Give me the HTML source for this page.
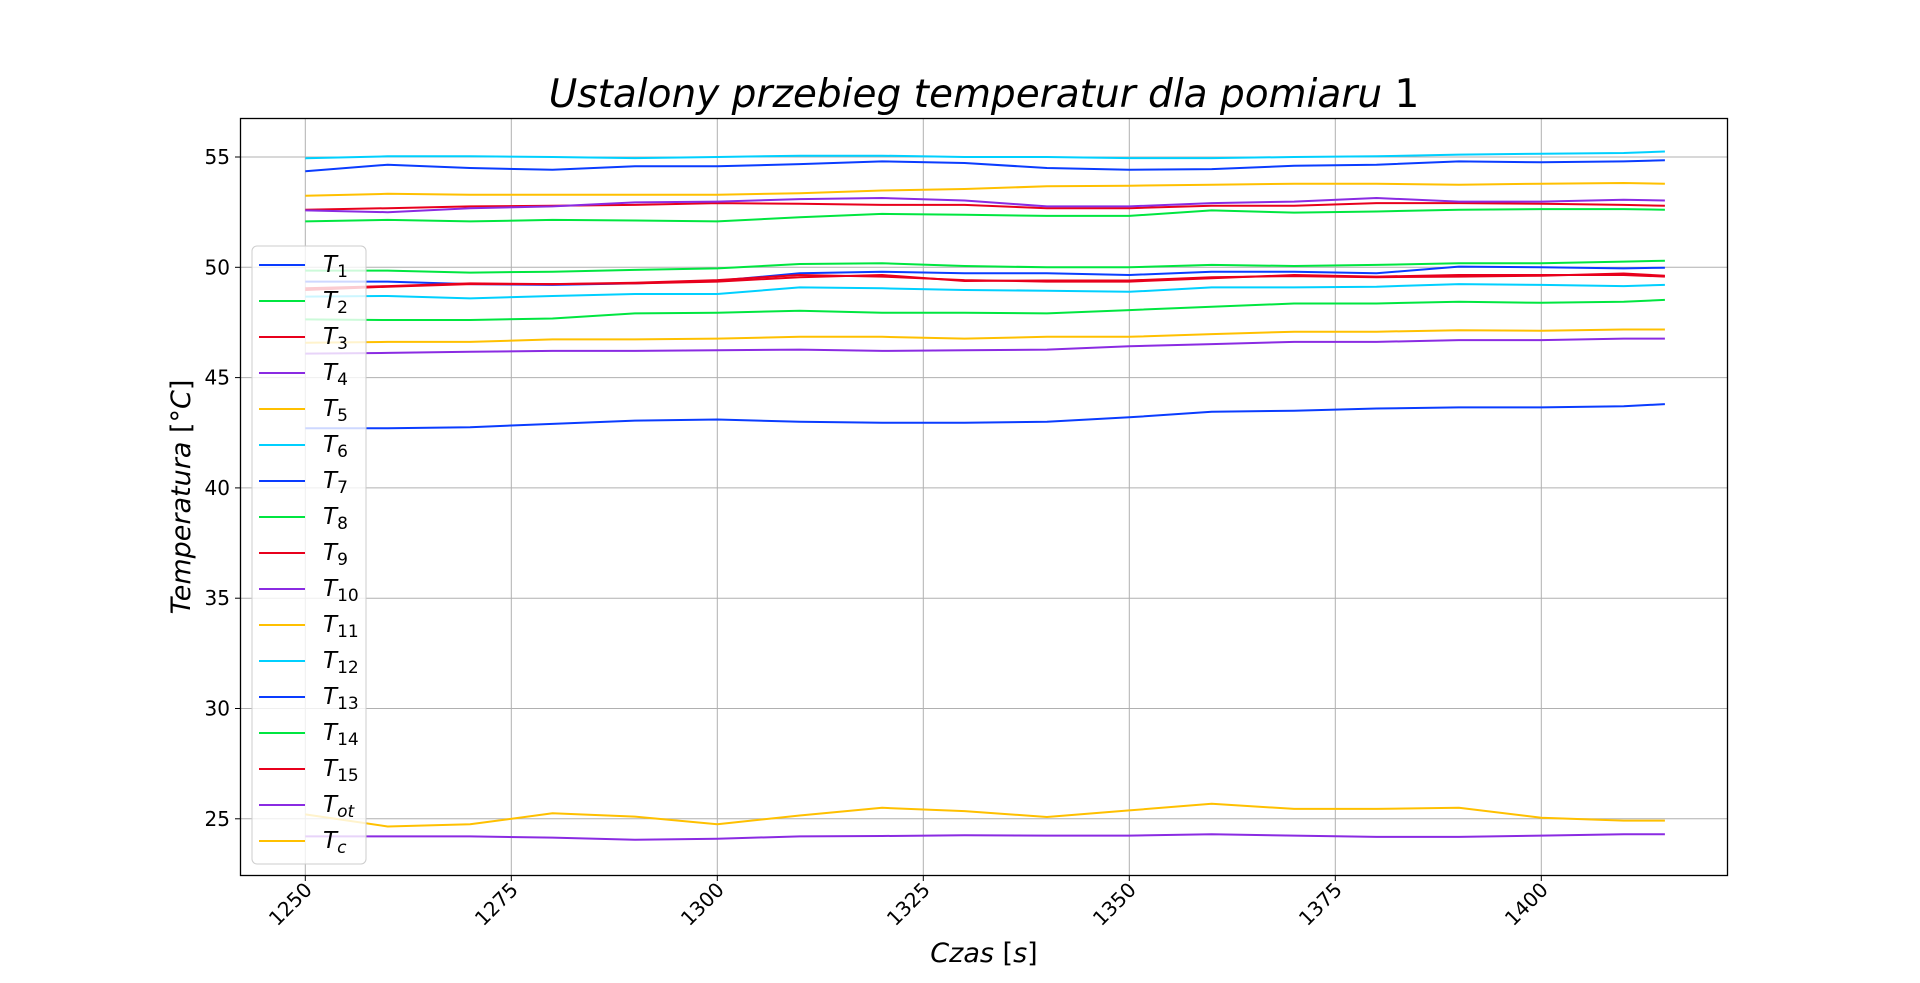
<!DOCTYPE html>
<html><head><meta charset="utf-8"><style>
html,body{margin:0;padding:0;background:#fff;}
svg{display:block;font-family:"DejaVu Sans","Liberation Sans",sans-serif;}
</style></head><body>
<svg id="chart" width="1920" height="983" viewBox="0 0 1920 983" xmlns="http://www.w3.org/2000/svg">
<rect x="0" y="0" width="1920" height="983" fill="#fff"/>
<text x="984" y="107" text-anchor="middle" font-size="39" font-style="italic" fill="#000">Ustalony przebieg temperatur dla pomiaru <tspan font-style="normal">1</tspan></text>
<g id="grid"></g>
<g id="series"></g>
<rect x="240.5" y="118.5" width="1487" height="757" fill="none" stroke="#000" stroke-width="1.3"/>
<g id="ticks"></g>
<text transform="translate(190,497) rotate(-90)" text-anchor="middle" font-size="27" fill="#000"><tspan font-style="italic">Temperatura</tspan> [°<tspan font-style="italic">C</tspan>]</text>
<text x="984" y="962" text-anchor="middle" font-size="27" fill="#000"><tspan font-style="italic">Czas</tspan> [<tspan font-style="italic">s</tspan>]</text>
<g id="legend"></g>
</svg>
<script>
const times = [1250,1260,1270,1280,1290,1300,1310,1320,1330,1340,1350,1360,1370,1380,1390,1400,1410,1415];
const seriesNames = ["1","2","3","4","5","6","7","8","9","10","11","12","13","14","15","ot","c"];
const seriesColors = ["#0a3cff","#00e640","#e8001c","#8a2be2","#ffc000","#00d0ff","#0a3cff","#00e640","#e8001c","#8a2be2","#ffc000","#00d0ff","#0a3cff","#00e640","#e8001c","#8a2be2","#ffc000"];
const T1 = [54.35,54.65,54.5,54.42,54.58,54.58,54.68,54.8,54.73,54.5,54.42,54.45,54.6,54.65,54.8,54.76,54.8,54.85];
const T2 = [52.08,52.15,52.08,52.15,52.12,52.08,52.27,52.42,52.38,52.33,52.33,52.58,52.48,52.53,52.61,52.64,52.64,52.61];
const T3 = [52.61,52.68,52.76,52.79,52.83,52.91,52.88,52.83,52.83,52.68,52.68,52.79,52.79,52.91,52.91,52.88,52.83,52.79];
const T4 = [52.58,52.5,52.68,52.76,52.94,52.98,53.09,53.14,53.03,52.76,52.76,52.91,52.98,53.14,52.98,52.98,53.06,53.03];
const T5 = [53.24,53.33,53.29,53.29,53.29,53.29,53.36,53.48,53.55,53.67,53.7,53.74,53.79,53.79,53.74,53.79,53.82,53.79];
const T6 = [54.94,55.03,55.03,55.0,54.95,55.0,55.06,55.06,55.0,55.0,54.95,54.95,55.0,55.03,55.11,55.15,55.18,55.25];
const T7 = [49.35,49.35,49.24,49.2,49.27,49.39,49.73,49.8,49.73,49.73,49.65,49.8,49.8,49.73,50.03,50.0,49.95,49.98];
const T8 = [49.85,49.85,49.76,49.8,49.88,49.95,50.15,50.18,50.06,50.0,50.0,50.11,50.06,50.11,50.18,50.18,50.26,50.3];
const T9 = [48.97,49.12,49.24,49.24,49.3,49.42,49.65,49.58,49.42,49.35,49.35,49.5,49.65,49.58,49.65,49.65,49.65,49.58];
const T10 = [46.09,46.12,46.17,46.21,46.21,46.24,46.27,46.21,46.24,46.27,46.42,46.52,46.62,46.62,46.7,46.7,46.77,46.77];
const T11 = [46.58,46.62,46.62,46.73,46.73,46.77,46.85,46.85,46.77,46.85,46.85,46.97,47.08,47.08,47.15,47.12,47.18,47.18];
const T12 = [48.67,48.7,48.59,48.7,48.79,48.79,49.09,49.05,48.97,48.94,48.89,49.09,49.09,49.12,49.24,49.2,49.15,49.2];
const T13 = [42.7,42.7,42.75,42.9,43.05,43.1,43.0,42.95,42.95,43.0,43.2,43.45,43.5,43.6,43.65,43.65,43.7,43.8];
const T14 = [47.64,47.61,47.61,47.68,47.91,47.94,48.03,47.94,47.94,47.91,48.06,48.21,48.36,48.36,48.44,48.39,48.44,48.52];
const T15 = [49.05,49.15,49.27,49.24,49.27,49.35,49.55,49.65,49.38,49.4,49.4,49.55,49.6,49.55,49.58,49.62,49.72,49.62];
const Tot = [24.2,24.2,24.2,24.15,24.05,24.1,24.2,24.22,24.25,24.24,24.24,24.3,24.24,24.18,24.18,24.24,24.3,24.3];
const Tc = [25.2,24.65,24.75,25.25,25.1,24.75,25.15,25.5,25.35,25.08,25.38,25.68,25.45,25.45,25.5,25.05,24.92,24.92];
const xTicks = [1250,1275,1300,1325,1350,1375,1400];
const yTicks = [25,30,35,40,45,50,55];

const allSeries = [T1,T2,T3,T4,T5,T6,T7,T8,T9,T10,T11,T12,T13,T14,T15,Tot,Tc];
const NS = "http://www.w3.org/2000/svg";
const X0 = 305.3, XS = 8.24, Y0 = 157, YS = 22.06;
function xScale(t){ return X0 + (t - 1250) * XS; }
function yScale(v){ return Y0 + (55 - v) * YS; }
function mk(tag, attrs, parent){ const e = document.createElementNS(NS, tag); for (const k in attrs) e.setAttribute(k, attrs[k]); parent.appendChild(e); return e; }

const grid = document.getElementById('grid');
const ticks = document.getElementById('ticks');
xTicks.forEach(t => {
  const x = xScale(t);
  const gl = mk('line', {x1:x, x2:x, y1:118.5, y2:875.5, stroke:'#b0b0b0', 'stroke-width':1}, grid);
  
  
  mk('line', {x1:x, x2:x, y1:875.5, y2:881, stroke:'#000', 'stroke-width':1}, ticks);
  const lb = mk('text', {transform:`translate(${x+8},${891}) rotate(-45)`, 'text-anchor':'end', 'font-size':20, fill:'#000'}, ticks);
  lb.textContent = t;
  
  
});
yTicks.forEach(v => {
  const y = yScale(v);
  const gl = mk('line', {x1:240.5, x2:1727.5, y1:y, y2:y, stroke:'#b0b0b0', 'stroke-width':1}, grid);
  
  
  mk('line', {x1:235, x2:240.5, y1:y, y2:y, stroke:'#000', 'stroke-width':1}, ticks);
  const lb = mk('text', {x:230, y:y+7, 'text-anchor':'end', 'font-size':20, fill:'#000'}, ticks);
  lb.textContent = v;
  
  
});

const sg = document.getElementById('series');
allSeries.forEach((vals, i) => {
  const pts = vals.map((v, j) => xScale(times[j]).toFixed(1) + ',' + yScale(v).toFixed(1)).join(' ');
  const pl = mk('polyline', {points:pts, fill:'none', stroke:seriesColors[i], 'stroke-width':2, 'stroke-linejoin':'round'}, sg);
  
  
});

const lg = document.getElementById('legend');
const box = mk('rect', {x:252, y:246, width:114, height:618, rx:5, fill:'#fff', 'fill-opacity':0.8, stroke:'#cccccc', 'stroke-width':1}, lg);


seriesNames.forEach((n, i) => {
  const y = 265 + i * 36;
  const g = mk('g', {}, lg);
  
  
  mk('line', {x1:259, x2:305, y1:y, y2:y, stroke:seriesColors[i], 'stroke-width':2}, g);
  const tx = mk('text', {x:323, y:y+7, 'font-size':23, fill:'#000'}, g);
  tx.innerHTML = '<tspan font-style="italic">T</tspan><tspan dy="5" font-size="17" font-style="' + (isNaN(+n) ? 'italic' : 'normal') + '">' + n + '</tspan>';
});
</script>
</body></html>
